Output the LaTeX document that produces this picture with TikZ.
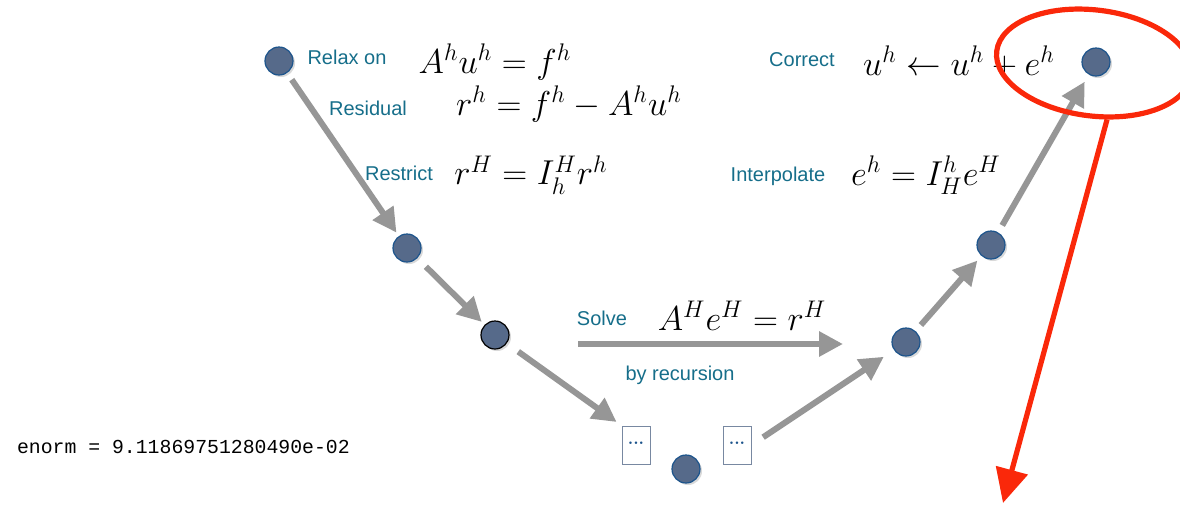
\documentclass[tikz,border=0pt]{standalone}
\usepackage{amsmath,amssymb}
\usepackage{fontspec}
\setsansfont{Liberation Sans}
\setmonofont{Liberation Mono}
\usepackage{tikz}
\usetikzlibrary{arrows.meta,positioning,calc,shadows,shapes.geometric}
\definecolor{vteal}{RGB}{22,110,138}
\definecolor{vdot}{RGB}{86,106,138}
\definecolor{vrim}{RGB}{28,84,140}
\definecolor{vgray}{RGB}{150,150,150}
\definecolor{vred}{RGB}{250,40,10}

\begin{document}
\begin{tikzpicture}[x=0.5pt,y=-0.5pt,
  cn/.style={circle,fill=vdot,draw=vrim,line width=0.6pt,minimum size=14pt,
    inner sep=0pt,drop shadow={opacity=0.3,shadow xshift=1pt,shadow yshift=-1pt}},
  bx/.style={draw=vdot!80,fill=white,line width=0.5pt,minimum width=14pt,
    minimum height=19pt,inner sep=0pt,font=\footnotesize\bfseries,text=vrim},
  ar/.style={vgray,line width=3pt,-{Triangle[length=12pt,width=12pt]}},
  lb/.style={font=\sffamily\fontsize{10}{12}\selectfont,text=vteal},
  eq/.style={font=\fontsize{16.5}{20}\selectfont}]
\useasboundingbox (0,0) rectangle (1180,505);
% V-cycle points
\node[cn] (n1) at (279,61) {};
\node[cn] (n2) at (407,248) {};
\node[cn,draw=black] (n3) at (495,335) {};
\node[bx] (b1) at (636,445) {\raisebox{2pt}{...}};
\node[cn] (n4) at (686,469) {};
\node[bx] (b2) at (737,445) {\raisebox{2pt}{...}};
\node[cn] (n5) at (906,342) {};
\node[cn] (n6) at (991,245) {};
\node[cn] (n7) at (1096,62) {};
\coordinate (sl) at (578,344);
\coordinate (sr) at (843,344);
% labels
\node[lb] (relax) at (347,57) {Relax on};
\node[eq] (e1) at (495,62) {$A^hu^h=f^h$};
\node[lb] (resid) at (368,108) {Residual};
\node[eq] (e2) at (569,104) {$r^h=f^h-A^hu^h$};
\node[lb] (restr) at (399,173) {Restrict};
\node[eq] (e3) at (531,175) {$r^H=I_h^Hr^h$};
\node[lb] (corr) at (802,60) {Correct};
\node[eq] (e4) at (959,62) {$u^h\leftarrow u^h+e^h$};
\node[lb] (interp) at (778,176) {Interpolate};
\node[eq] (e5) at (926,175) {$e^h=I_H^he^H$};
\node[lb] (solve) at (602,318) {Solve};
\node[eq] (e6) at (742,316) {$A^He^H=r^H$};
\node[lb] (recur) at (680,375) {by recursion};
\node[anchor=west,font=\ttfamily\fontsize{9.9}{12}\selectfont] (enorm) at (10,447)
  {enorm = 9.11869751280490e-02};
% arrows
\draw[ar,shorten <=4pt,shorten >=2pt] (n1) -- (n2);
\draw[ar,shorten <=6pt,shorten >=2pt] (n2) -- (n3);
\draw[ar,shorten <=7pt,shorten >=3pt] (n3) -- (b1.north west);
\draw[ar] (sl) -- (sr);
\draw[ar,shorten <=7pt,shorten >=6pt] (b2.east) -- (n5);
\draw[ar,shorten <=4pt,shorten >=3pt] (n5) -- (n6);
\draw[ar,shorten <=4pt,shorten >=4pt] (n6) -- (n7);
% highlight
\node[ellipse,draw=vred,line width=2.6pt,minimum width=98pt,minimum height=53pt,
  rotate=-7] (ring) at (1094,63) {};
\coordinate (tip) at (1003,503);
\draw[vred,line width=2.6pt,-{Triangle[length=17pt,width=16pt]}] (ring.-70) -- (tip);
\end{tikzpicture}
\end{document}
